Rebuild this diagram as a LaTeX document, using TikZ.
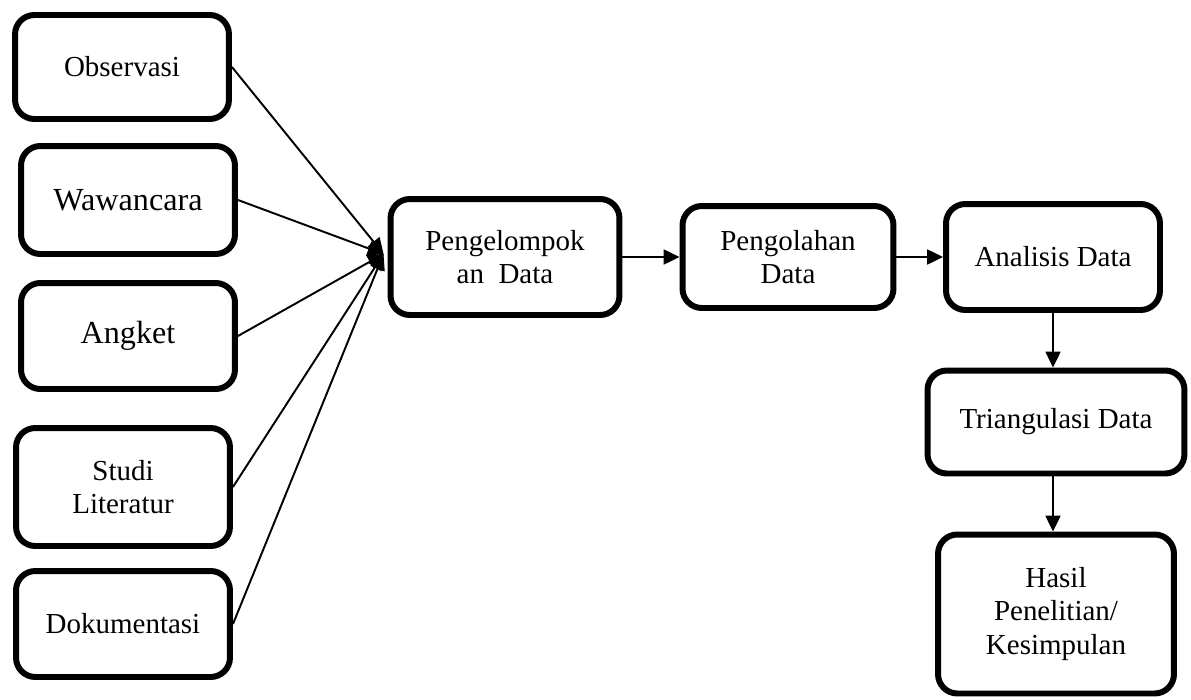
\documentclass[tikz,border=0pt]{standalone}
\usepackage{fontspec}
\setmainfont{Liberation Serif}
\usetikzlibrary{arrows.meta,positioning,calc}
\newcommand{\txt}{\fontsize{16.5}{19}\selectfont}
\newcommand{\bigtxt}{\fontsize{18.3}{20}\selectfont}
\tikzset{
  box/.style={draw,line width=3.4pt,rounded corners=11pt,fill=white,align=center,inner sep=2pt,font=\txt,minimum width=4.28cm},
  ar/.style={-{Triangle[length=9pt,width=8.5pt]},line width=1.1pt},
}
\begin{document}
\begin{tikzpicture}[x=0.02cm,y=-0.02cm]
\useasboundingbox (0,0) rectangle (1191,700);
% sumber data
\node[box,minimum height=2.08cm] (obs) at (122,67) {Observasi};
\node[box,minimum height=2.16cm,font=\bigtxt] (waw) at (128,200) {Wawancara};
\node[box,minimum height=2.12cm,font=\bigtxt] (ang) at (128,336) {Angket};
\node[box,minimum height=2.36cm] (stu) at (123,487) {Studi\\Literatur};
\node[box,minimum height=2.12cm] (dok) at (123,624) {Dokumentasi};
% alur pengolahan
\node[box,minimum width=4.58cm,minimum height=2.32cm] (kel) at (505,257) {Pengelompok\\an~ Data};
\node[box,minimum width=4.22cm,minimum height=2.04cm] (olah) at (788,257) {Pengolahan\\Data};
\node[box,minimum height=2.12cm] (anl) at (1053,257) {Analisis Data};
\node[box,minimum width=5.14cm,minimum height=2.06cm] (tri) at (1056,422) {Triangulasi Data};
\node[box,minimum width=4.72cm,minimum height=3.18cm] (has) at (1056,614) {Hasil\\Penelitian/\\Kesimpulan};
\coordinate (in) at ($(kel.west)+(-4,-3)$);
\foreach \s in {obs,waw,ang,stu,dok}
  \draw[ar] (\s.east) -- (in);
\draw[ar] (kel.east) -- (olah.west);
\draw[ar] (olah.east) -- (anl.west);
\draw[ar] (anl.south) -- (anl.south |- tri.north);
\draw[ar] (anl.south |- tri.south) -- (anl.south |- has.north);
\end{tikzpicture}
\end{document}
